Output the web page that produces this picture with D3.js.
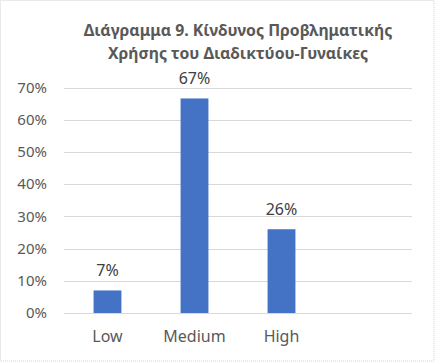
<!DOCTYPE html>
<html>
<head>
<meta charset="utf-8">
<script src="https://cdn.jsdelivr.net/npm/d3@7"></script>
<style>
  body { margin: 0; background: #fff; }
  svg { display: block; }
</style>
</head>
<body>
<div id="chart"></div>
<script>
// chart data
var titleLines = ['Διάγραμμα 9. Κίνδυνος Προβληματικής', 'Χρήσης του Διαδικτύου-Γυναίκες'];
var categories = ['Low', 'Medium', 'High', ''];   // last slot is empty in the original
var values = [0.07, 0.666, 0.26, null];
var yTicks = [0, 0.1, 0.2, 0.3, 0.4, 0.5, 0.6, 0.7];

var W = 436, H = 363;
var margin = { top: 87.5, right: 24, bottom: 50, left: 64 };
var textColor = '#595959';
var font = '"Noto Sans", "Open Sans", sans-serif';

var svg = d3.select('#chart').append('svg')
  .attr('width', W)
  .attr('height', H)
  .style('font-family', font);

// outer frame
svg.append('rect')
  .attr('x', 0.5).attr('y', 0.5)
  .attr('width', 433.5).attr('height', 360.5)
  .attr('fill', '#fff')
  .attr('stroke', '#d4d4d4')
  .attr('stroke-dasharray', '1,1');

var x = d3.scaleBand()
  .domain(categories)
  .range([margin.left, W - margin.right])
  .paddingInner(0.68)
  .paddingOuter(0.34);

var y = d3.scaleLinear()
  .domain([0, 0.7])
  .range([313, margin.top]);

// gridlines
svg.append('g')
  .selectAll('line')
  .data(yTicks)
  .join('line')
  .attr('x1', margin.left)
  .attr('x2', W - margin.right)
  .attr('y1', function(d) { return Math.round(y(d)) + 0.5; })
  .attr('y2', function(d) { return Math.round(y(d)) + 0.5; })
  .attr('stroke', '#d9d9d9')
  .attr('stroke-width', 1);

// y axis labels
var yAxis = svg.append('g')
  .attr('transform', 'translate(' + (margin.left - 17) + ',0)')
  .call(d3.axisLeft(y).tickValues(yTicks).tickFormat(d3.format('.0%')).tickSize(0).tickPadding(0));
yAxis.select('.domain').remove();
yAxis.selectAll('text')
  .attr('fill', textColor)
  .style('font-size', '15px')
  .style('font-family', font);

// x axis labels
var xAxis = svg.append('g')
  .attr('transform', 'translate(0,' + 331 + ')')
  .call(d3.axisBottom(x).tickSize(0).tickPadding(0));
xAxis.select('.domain').remove();
xAxis.selectAll('text')
  .attr('fill', textColor)
  .style('font-size', '16px')
  .style('font-family', font);

var barData = categories.map(function(c, i) { return { cat: c, val: values[i] }; })
  .filter(function(d) { return d.val != null; });

// bars
svg.append('g')
  .selectAll('rect')
  .data(barData)
  .join('rect')
  .attr('x', function(d) { return x(d.cat); })
  .attr('y', function(d) { return y(d.val); })
  .attr('width', x.bandwidth())
  .attr('height', function(d) { return y(0) - y(d.val); })
  .attr('fill', '#4472c4');

// value labels
svg.append('g')
  .selectAll('text')
  .data(barData)
  .join('text')
  .attr('x', function(d) { return x(d.cat) + x.bandwidth() / 2; })
  .attr('y', function(d) { return y(d.val) - 14; })
  .attr('text-anchor', 'middle')
  .attr('fill', '#404040')
  .style('font-size', '16px')
  .text(function(d) { return d3.format('.0%')(d.val); });

// title
svg.append('g')
  .selectAll('text')
  .data(titleLines)
  .join('text')
  .attr('x', 238)
  .attr('y', function(d, i) { return 36 + i * 23; })
  .attr('text-anchor', 'middle')
  .attr('fill', textColor)
  .style('font-size', '15.8px')
  .style('font-weight', 'bold')
  .text(function(d) { return d; });
</script>
</body>
</html>
